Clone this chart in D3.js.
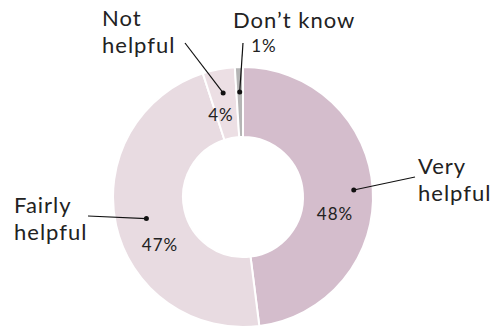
<!DOCTYPE html>
<html>
<head>
<meta charset="utf-8">
<script src="https://cdn.jsdelivr.net/npm/d3@7"></script>
<style>
  body { margin: 0; background: #fff; }
  svg text { font-family: Lato, "Noto Sans", sans-serif; fill: #222; }
</style>
</head>
<body>
<svg width="503" height="329"></svg>
<script>
// data
var categories = ["Very helpful", "Fairly helpful", "Not helpful", "Don\u2019t know"];
var values = [48, 47, 4, 1];
var colors = ["#d4bdcc", "#e8dbe1", "#ecdfe4", "#b5b5b5"];

// label layout (name lines, name position, pct position, dot radius, leader end)
var labelLayout = [
  {lines: ["Very", "helpful"], x: 418, y: 174, px: 335, py: 220, dotR: 111, lx: 415, ly: 177},
  {lines: ["Fairly", "helpful"], x: 14, y: 213, px: 160, py: 251, dotR: 99, lx: 88, ly: 216},
  {lines: ["Not", "helpful"], x: 102, y: 26, px: 221, py: 121, dotR: 106, lx: 185, ly: 43},
  {lines: ["Don\u2019t know"], x: 233, y: 28, px: 264, py: 52, dotR: 105, lx: 243, ly: 43}
];

var svg = d3.select("svg"),
    cx = 243, cy = 197,
    outerR = 130, innerR = 60;

var g = svg.append("g")
    .attr("transform", "translate(" + cx + "," + cy + ")");

var data = categories.map(function(c, i) { return {name: c, value: values[i], i: i}; });

var pie = d3.pie()
    .value(function(d) { return d.value; })
    .sort(null);

var arc = d3.arc()
    .innerRadius(innerR)
    .outerRadius(outerR);

var arcs = pie(data);

g.selectAll(".slice")
  .data(arcs)
  .enter().append("path")
    .attr("class", "slice")
    .attr("d", arc)
    .attr("fill", function(d) { return colors[d.data.i]; })
    .attr("stroke", "#fff")
    .attr("stroke-width", 2);

// percentage labels
g.selectAll(".pct")
  .data(arcs)
  .enter().append("text")
    .attr("class", "pct")
    .attr("x", function(d) { return labelLayout[d.data.i].px - cx; })
    .attr("y", function(d) { return labelLayout[d.data.i].py - cy; })
    .attr("text-anchor", "middle")
    .attr("font-size", 17)
    .attr("letter-spacing", 1)
    .text(function(d) { return d.data.value + "%"; });

// leader lines + dots
function dotPos(d) {
  var a = (d.startAngle + d.endAngle) / 2,
      r = labelLayout[d.data.i].dotR;
  return [Math.sin(a) * r, -Math.cos(a) * r];
}

g.selectAll(".leader")
  .data(arcs)
  .enter().append("line")
    .attr("class", "leader")
    .attr("x1", function(d) { return dotPos(d)[0]; })
    .attr("y1", function(d) { return dotPos(d)[1]; })
    .attr("x2", function(d) { return labelLayout[d.data.i].lx - cx; })
    .attr("y2", function(d) { return labelLayout[d.data.i].ly - cy; })
    .attr("stroke", "#111")
    .attr("stroke-width", 1.2);

g.selectAll(".dot")
  .data(arcs)
  .enter().append("circle")
    .attr("class", "dot")
    .attr("cx", function(d) { return dotPos(d)[0]; })
    .attr("cy", function(d) { return dotPos(d)[1]; })
    .attr("r", 2.5)
    .attr("fill", "#111");

// category names
var names = svg.selectAll(".name")
  .data(data)
  .enter().append("text")
    .attr("class", "name")
    .attr("font-size", 22)
    .attr("letter-spacing", 1)
    .attr("x", function(d) { return labelLayout[d.i].x; })
    .attr("y", function(d) { return labelLayout[d.i].y; });

names.selectAll("tspan")
  .data(function(d) { return labelLayout[d.i].lines.map(function(l) { return {t: l, x: labelLayout[d.i].x}; }); })
  .enter().append("tspan")
    .attr("x", function(d) { return d.x; })
    .attr("dy", function(d, j) { return j ? 27 : 0; })
    .text(function(d) { return d.t; });
</script>
</body>
</html>
